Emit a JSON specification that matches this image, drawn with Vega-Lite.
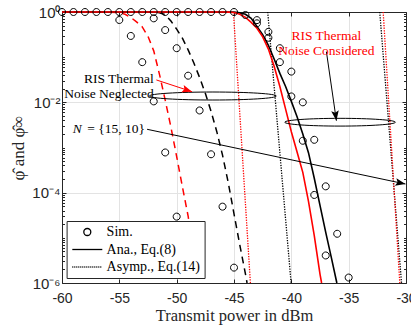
{
  "$schema": "https://vega.github.io/schema/vega-lite/v6.json",
  "width": 344,
  "height": 271,
  "autosize": {"type": "none"},
  "padding": {"left": 62, "top": 12, "right": 5, "bottom": 46},
  "background": "white",
  "config": {
    "view": {"stroke": null},
    "axis": {
      "labelFont": "Liberation Sans",
      "labelFontSize": 14,
      "labelColor": "#262626",
      "domainColor": "#262626",
      "domainWidth": 1,
      "tickColor": "#262626",
      "titleFont": "Liberation Serif",
      "titleFontWeight": "normal",
      "titleColor": "#262626",
      "gridColor": "#e3e3e3",
      "gridWidth": 1
    }
  },
  "datasets": {
    "curves": [
      {"s": "asymRed1", "x": -45.05, "y": 1}, {"s": "asymRed1", "x": -43.57, "y": 0.000001},
      {"s": "asymBlack1", "x": -42.06, "y": 1}, {"s": "asymBlack1", "x": -40.02, "y": 0.000001},
      {"s": "asymBlack2", "x": -32.29, "y": 1}, {"s": "asymBlack2", "x": -30.39, "y": 0.000001},
      {"s": "asymRed2", "x": -31.99, "y": 1}, {"s": "asymRed2", "x": -30.54, "y": 0.000001},
      {"s": "negRed", "x": -60, "y": 1}, {"s": "negRed", "x": -56, "y": 0.993}, {"s": "negRed", "x": -55, "y": 0.966},
      {"s": "negRed", "x": -54.5, "y": 0.891}, {"s": "negRed", "x": -54, "y": 0.759}, {"s": "negRed", "x": -53.5, "y": 0.603},
      {"s": "negRed", "x": -53, "y": 0.468}, {"s": "negRed", "x": -52.5, "y": 0.288}, {"s": "negRed", "x": -52, "y": 0.138},
      {"s": "negRed", "x": -51.5, "y": 0.0417}, {"s": "negRed", "x": -51, "y": 0.0112}, {"s": "negRed", "x": -50.5, "y": 0.00282},
      {"s": "negRed", "x": -50, "y": 0.000631}, {"s": "negRed", "x": -49.5, "y": 0.000135}, {"s": "negRed", "x": -49, "y": 0.0000302},
      {"s": "negRed", "x": -48.5, "y": 0.00000427}, {"s": "negRed", "x": -48.15, "y": 0.000001},
      {"s": "negBlack", "x": -60, "y": 1}, {"s": "negBlack", "x": -52, "y": 0.993}, {"s": "negBlack", "x": -51.5, "y": 0.966},
      {"s": "negBlack", "x": -51, "y": 0.871}, {"s": "negBlack", "x": -50.5, "y": 0.631}, {"s": "negBlack", "x": -50, "y": 0.417},
      {"s": "negBlack", "x": -49.5, "y": 0.263}, {"s": "negBlack", "x": -49, "y": 0.145}, {"s": "negBlack", "x": -48.5, "y": 0.0741},
      {"s": "negBlack", "x": -48, "y": 0.0355}, {"s": "negBlack", "x": -47.5, "y": 0.0158}, {"s": "negBlack", "x": -47, "y": 0.00631},
      {"s": "negBlack", "x": -46.5, "y": 0.00224}, {"s": "negBlack", "x": -46, "y": 0.000676}, {"s": "negBlack", "x": -45.5, "y": 0.000166},
      {"s": "negBlack", "x": -45, "y": 0.0000339}, {"s": "negBlack", "x": -44.5, "y": 0.00000708}, {"s": "negBlack", "x": -44, "y": 0.00000158},
      {"s": "negBlack", "x": -43.86, "y": 0.000001},
      {"s": "anaBlack", "x": -60, "y": 1}, {"s": "anaBlack", "x": -46, "y": 1}, {"s": "anaBlack", "x": -45, "y": 0.993},
      {"s": "anaBlack", "x": -44.5, "y": 0.955}, {"s": "anaBlack", "x": -44, "y": 0.891}, {"s": "anaBlack", "x": -43.5, "y": 0.724},
      {"s": "anaBlack", "x": -43, "y": 0.479}, {"s": "anaBlack", "x": -42.5, "y": 0.316}, {"s": "anaBlack", "x": -42, "y": 0.182},
      {"s": "anaBlack", "x": -41.5, "y": 0.0912}, {"s": "anaBlack", "x": -41, "y": 0.0437}, {"s": "anaBlack", "x": -40.5, "y": 0.0224},
      {"s": "anaBlack", "x": -40, "y": 0.0105}, {"s": "anaBlack", "x": -39.5, "y": 0.00479}, {"s": "anaBlack", "x": -39, "y": 0.002},
      {"s": "anaBlack", "x": -38.5, "y": 0.000759}, {"s": "anaBlack", "x": -38, "y": 0.000209}, {"s": "anaBlack", "x": -37.5, "y": 0.0000525},
      {"s": "anaBlack", "x": -37, "y": 0.0000132}, {"s": "anaBlack", "x": -36.5, "y": 0.00000355}, {"s": "anaBlack", "x": -36.03, "y": 0.000001},
      {"s": "anaRed", "x": -60, "y": 1}, {"s": "anaRed", "x": -46, "y": 1}, {"s": "anaRed", "x": -45.5, "y": 0.995},
      {"s": "anaRed", "x": -45, "y": 0.977}, {"s": "anaRed", "x": -44.5, "y": 0.891}, {"s": "anaRed", "x": -44, "y": 0.759},
      {"s": "anaRed", "x": -43.5, "y": 0.589}, {"s": "anaRed", "x": -43, "y": 0.437}, {"s": "anaRed", "x": -42.5, "y": 0.282},
      {"s": "anaRed", "x": -42, "y": 0.151}, {"s": "anaRed", "x": -41.5, "y": 0.0631}, {"s": "anaRed", "x": -41, "y": 0.0224},
      {"s": "anaRed", "x": -40.5, "y": 0.00708}, {"s": "anaRed", "x": -40, "y": 0.00224}, {"s": "anaRed", "x": -39.5, "y": 0.000794},
      {"s": "anaRed", "x": -39, "y": 0.000282}, {"s": "anaRed", "x": -38.5, "y": 0.0000631}, {"s": "anaRed", "x": -38, "y": 0.0000112},
      {"s": "anaRed", "x": -37.5, "y": 0.00000158}, {"s": "anaRed", "x": -37.36, "y": 0.000001}
    ],
    "sims": [
      {"s": "s1", "x": -60, "y": 1}, {"s": "s1", "x": -59, "y": 1}, {"s": "s1", "x": -58, "y": 1}, {"s": "s1", "x": -57, "y": 1},
      {"s": "s1", "x": -56, "y": 1}, {"s": "s1", "x": -55, "y": 0.665}, {"s": "s1", "x": -54, "y": 0.295}, {"s": "s1", "x": -53, "y": 0.0776},
      {"s": "s1", "x": -52, "y": 0.0105}, {"s": "s1", "x": -51, "y": 0.000776}, {"s": "s1", "x": -50, "y": 0.0000295},
      {"s": "s2", "x": -55, "y": 1}, {"s": "s2", "x": -54, "y": 1}, {"s": "s2", "x": -53, "y": 1},
      {"s": "s2", "x": -52, "y": 0.724}, {"s": "s2", "x": -51, "y": 0.398}, {"s": "s2", "x": -50, "y": 0.158}, {"s": "s2", "x": -49, "y": 0.0389},
      {"s": "s2", "x": -48, "y": 0.00661}, {"s": "s2", "x": -47, "y": 0.000708}, {"s": "s2", "x": -46, "y": 0.000049}, {"s": "s2", "x": -45, "y": 0.00000219},
      {"s": "s3", "x": -52, "y": 1}, {"s": "s3", "x": -51, "y": 1}, {"s": "s3", "x": -50, "y": 1}, {"s": "s3", "x": -49, "y": 1},
      {"s": "s3", "x": -48, "y": 1}, {"s": "s3", "x": -47, "y": 1}, {"s": "s3", "x": -46, "y": 1}, {"s": "s3", "x": -45, "y": 1},
      {"s": "s3", "x": -44, "y": 0.859}, {"s": "s3", "x": -43, "y": 0.661}, {"s": "s3", "x": -42, "y": 0.363}, {"s": "s3", "x": -41, "y": 0.158},
      {"s": "s3", "x": -40, "y": 0.0479}, {"s": "s3", "x": -39, "y": 0.01}, {"s": "s3", "x": -38, "y": 0.00148}, {"s": "s3", "x": -37, "y": 0.000138},
      {"s": "s3", "x": -36, "y": 0.0000123}, {"s": "s3", "x": -35, "y": 0.00000132},
      {"s": "s4", "x": -43, "y": 0.562}, {"s": "s4", "x": -42, "y": 0.269}, {"s": "s4", "x": -41, "y": 0.0776},
      {"s": "s4", "x": -40, "y": 0.0135}, {"s": "s4", "x": -39, "y": 0.00141}, {"s": "s4", "x": -38, "y": 0.000089}, {"s": "s4", "x": -37, "y": 0.00000407}
    ],
    "ellipses": [
      {"e": "neg", "x": -46.84, "y": 0.0138},
      {"e": "con", "x": -35.75, "y": 0.00363}
    ],
    "arrows": [
      {"g": "neg", "x": -51.77, "y": 0.0313, "x2": -48.66, "y2": 0.0172},
      {"g": "con", "x": -36.94, "y": 0.132, "x2": -36.07, "y2": 0.00392},
      {"g": "n", "x": -52.58, "y": 0.00253, "x2": -30.05, "y2": 0.0001556}
    ],
    "labels": [
      {"id": "neg", "t": "RIS Thermal|Noise Neglected", "x": -51.99, "y": 0.0331},
      {"id": "con", "t": "RIS Thermal|Noise Considered", "x": -36.94, "y": 0.297},
      {"id": "N", "t": "N", "x": -58.27, "y": 0.00253},
      {"id": "set", "t": "= {15, 10}", "x": -52.77, "y": 0.00253}
    ]
  },
  "layer": [
    {
      "encoding": {
        "x": {
          "field": "x", "type": "quantitative",
          "scale": {"domain": [-60, -30], "nice": false, "zero": false},
          "axis": {
            "orient": "bottom",
            "values": [-60, -55, -50, -45, -40, -35, -30],
            "labelExpr": "'' + datum.value",
            "labelFlush": false,
            "tickSize": -4,
            "labelPadding": 12,
            "grid": true,
            "title": "Transmit power in dBm",
            "titleFontSize": 16.5,
            "titlePadding": 2
          }
        },
        "y": {
          "field": "y", "type": "quantitative",
          "scale": {"type": "log", "domain": [0.000001, 1], "nice": false},
          "axis": {
            "orient": "left",
            "values": [0.000001,0.000002,0.000003,0.000004,0.000005,0.000006,0.000007,0.000008,0.000009,0.00001,0.00002,0.00003,0.00004,0.00005,0.00006,0.00007,0.00008,0.00009,0.0001,0.0002,0.0003,0.0004,0.0005,0.0006,0.0007,0.0008,0.0009,0.001,0.002,0.003,0.004,0.005,0.006,0.007,0.008,0.009,0.01,0.02,0.03,0.04,0.05,0.06,0.07,0.08,0.09,0.1,0.2,0.3,0.4,0.5,0.6,0.7,0.8,0.9,1],
            "labelExpr": "datum.value === 1 ? '10⁰' : datum.value === 0.01 ? '10⁻²' : datum.value === 0.0001 ? '10⁻⁴' : datum.value === 0.000001 ? '10⁻⁶' : ''",
            "labelFontSize": 15,
            "labelOverlap": false,
            "tickSize": {"condition": {"test": "datum.value === 1 || datum.value === 0.01 || datum.value === 0.0001 || datum.value === 0.000001", "value": -4}, "value": -2.5},
            "labelPadding": 6,
            "grid": true,
            "gridOpacity": {"condition": {"test": "datum.value === 0.01 || datum.value === 0.0001", "value": 1}, "value": 0},
            "title": "φ̂ and φ̂∞",
            "titleFontSize": 17,
            "titlePadding": 4
          }
        }
      },
      "layer": [
        {
          "data": {"name": "curves"},
          "transform": [{"filter": {"field": "s", "oneOf": ["asymRed1", "asymBlack1", "asymBlack2", "asymRed2"]}}],
          "mark": {"type": "line", "strokeDash": [1.3, 1.3], "strokeWidth": 1.3},
          "encoding": {
            "color": {"field": "s", "type": "nominal", "legend": null,
              "scale": {"domain": ["asymRed1","asymBlack1","asymBlack2","asymRed2","negRed","negBlack","anaBlack","anaRed"],
                        "range": ["#ff0000","#000000","#000000","#ff0000","#ff0000","#000000","#000000","#ff0000"]}},
            "detail": {"field": "s"}
          }
        },
        {
          "data": {"name": "curves"},
          "transform": [{"filter": {"field": "s", "oneOf": ["negBlack", "negRed"]}}],
          "mark": {"type": "line", "strokeDash": [7, 5], "strokeWidth": 1.5},
          "encoding": {
            "color": {"field": "s", "type": "nominal", "legend": null},
            "detail": {"field": "s"}
          }
        },
        {
          "data": {"name": "curves"},
          "transform": [{"filter": {"field": "s", "equal": "anaBlack"}}],
          "mark": {"type": "line", "strokeWidth": 1.6},
          "encoding": {"color": {"field": "s", "type": "nominal", "legend": null}}
        },
        {
          "data": {"name": "curves"},
          "transform": [{"filter": {"field": "s", "equal": "anaRed"}}],
          "mark": {"type": "line", "strokeWidth": 1.6},
          "encoding": {"color": {"field": "s", "type": "nominal", "legend": null}}
        },
        {
          "data": {"name": "sims"},
          "mark": {"type": "point", "filled": false, "size": 100, "strokeWidth": 1, "color": "black", "opacity": 1},
          "encoding": {
            "shape": {
              "datum": "Sim.", "type": "nominal",
              "scale": {
                "domain": ["Sim.", "Ana., Eq.(8)", "Asymp., Eq.(14)"],
                "range": [
                  "M-0.7,0A0.7,0.7,0,1,1,0.7,0A0.7,0.7,0,1,1,-0.7,0Z",
                  "M-3,0L3,0",
                  "M-3,0h0.2M-2.6,0h0.2M-2.2,0h0.2M-1.8,0h0.2M-1.4,0h0.2M-1,0h0.2M-0.6,0h0.2M-0.2,0h0.2M0.2,0h0.2M0.6,0h0.2M1,0h0.2M1.4,0h0.2M1.8,0h0.2M2.2,0h0.2M2.6,0h0.2"
                ]
              },
              "legend": {
                "orient": "none",
                "legendX": 4.6,
                "legendY": 209,
                "title": null,
                "padding": 4,
                "strokeColor": "#262626",
                "fillColor": "white",
                "symbolSize": 100,
                "symbolStrokeWidth": 1.3,
                "symbolStrokeColor": "black",
                "symbolFillColor": "transparent",
                "symbolOffset": 9.7,
                "labelOffset": 12.3,
                "rowPadding": 3.5,
                "labelFont": "Liberation Serif",
                "labelFontSize": 14,
                "labelColor": "black"
              }
            }
          }
        },
        {
          "data": {"name": "ellipses"},
          "transform": [{"filter": {"field": "e", "equal": "neg"}}],
          "mark": {"type": "point", "shape": "M-1,0A1,0.063,0,1,1,1,0A1,0.063,0,1,1,-1,0Z", "size": 16129, "filled": false, "color": "black", "strokeWidth": 1, "opacity": 1}
        },
        {
          "data": {"name": "ellipses"},
          "transform": [{"filter": {"field": "e", "equal": "con"}}],
          "mark": {"type": "point", "shape": "M-1,0A1,0.07,0,1,1,1,0A1,0.07,0,1,1,-1,0Z", "size": 12254, "filled": false, "color": "black", "strokeWidth": 1, "opacity": 1}
        },
        {
          "data": {"name": "arrows"},
          "mark": {"type": "rule", "strokeWidth": 1},
          "encoding": {
            "x2": {"field": "x2"},
            "y2": {"field": "y2"},
            "color": {"field": "g", "type": "nominal", "legend": null,
              "scale": {"domain": ["neg", "con", "n"], "range": ["#ff0000", "#000000", "#000000"]}}
          }
        },
        {
          "data": {"name": "arrows"},
          "transform": [{"filter": {"field": "g", "equal": "neg"}}],
          "mark": {"type": "point", "shape": "M0,0L-1,-0.38L-0.8,0L-1,0.38Z", "size": 400, "filled": true, "color": "#ff0000", "angle": 18.1, "opacity": 1},
          "encoding": {
            "x": {"field": "x2", "type": "quantitative"},
            "y": {"field": "y2", "type": "quantitative"}
          }
        },
        {
          "data": {"name": "arrows"},
          "transform": [{"filter": {"field": "g", "equal": "con"}}],
          "mark": {"type": "point", "shape": "M0,0L-1,-0.38L-0.8,0L-1,0.38Z", "size": 400, "filled": true, "color": "#000000", "angle": 81.8, "opacity": 1},
          "encoding": {
            "x": {"field": "x2", "type": "quantitative"},
            "y": {"field": "y2", "type": "quantitative"}
          }
        },
        {
          "data": {"name": "arrows"},
          "transform": [{"filter": {"field": "g", "equal": "n"}}],
          "mark": {"type": "point", "shape": "M0,0L-1,-0.38L-0.8,0L-1,0.38Z", "size": 400, "filled": true, "color": "#000000", "angle": 11.96, "opacity": 1},
          "encoding": {
            "x": {"field": "x2", "type": "quantitative"},
            "y": {"field": "y2", "type": "quantitative"}
          }
        },
        {
          "data": {"name": "labels"},
          "transform": [{"filter": {"field": "id", "equal": "neg"}}],
          "mark": {"type": "text", "align": "right", "baseline": "middle", "lineBreak": "|", "lineHeight": 15.5, "font": "Liberation Serif", "fontSize": 13.5, "color": "#000000"},
          "encoding": {"text": {"field": "t"}}
        },
        {
          "data": {"name": "labels"},
          "transform": [{"filter": {"field": "id", "equal": "con"}}],
          "mark": {"type": "text", "align": "center", "baseline": "middle", "lineBreak": "|", "lineHeight": 15.5, "font": "Liberation Serif", "fontSize": 13.5, "color": "#ff0000"},
          "encoding": {"text": {"field": "t"}}
        },
        {
          "data": {"name": "labels"},
          "transform": [{"filter": {"field": "id", "equal": "N"}}],
          "mark": {"type": "text", "align": "right", "baseline": "middle", "font": "Liberation Serif", "fontStyle": "italic", "fontSize": 13.5, "color": "#000000"},
          "encoding": {"text": {"field": "t"}}
        },
        {
          "data": {"name": "labels"},
          "transform": [{"filter": {"field": "id", "equal": "set"}}],
          "mark": {"type": "text", "align": "right", "baseline": "middle", "font": "Liberation Serif", "fontSize": 13.5, "color": "#000000"},
          "encoding": {"text": {"field": "t"}}
        }
      ]
    },
    {
      "data": {"values": [{"x": -60, "y": 1}]},
      "mark": {"type": "point", "opacity": 0},
      "encoding": {
        "x": {
          "field": "x", "type": "quantitative",
          "scale": {"domain": [-60, -30], "nice": false, "zero": false},
          "axis": {"orient": "top", "values": [-60, -55, -50, -45, -40, -35, -30], "labels": false, "tickSize": -4, "grid": false, "title": null}
        },
        "y": {
          "field": "y", "type": "quantitative",
          "scale": {"type": "log", "domain": [0.000001, 1], "nice": false},
          "axis": {
            "orient": "right",
            "values": [0.000001,0.000002,0.000003,0.000004,0.000005,0.000006,0.000007,0.000008,0.000009,0.00001,0.00002,0.00003,0.00004,0.00005,0.00006,0.00007,0.00008,0.00009,0.0001,0.0002,0.0003,0.0004,0.0005,0.0006,0.0007,0.0008,0.0009,0.001,0.002,0.003,0.004,0.005,0.006,0.007,0.008,0.009,0.01,0.02,0.03,0.04,0.05,0.06,0.07,0.08,0.09,0.1,0.2,0.3,0.4,0.5,0.6,0.7,0.8,0.9,1],
            "labels": false,
            "tickSize": {"condition": {"test": "datum.value === 1 || datum.value === 0.01 || datum.value === 0.0001 || datum.value === 0.000001", "value": -4}, "value": -2.5},
            "grid": false,
            "title": null
          }
        }
      }
    }
  ],
  "resolve": {"scale": {"x": "independent", "y": "independent"}}
}
